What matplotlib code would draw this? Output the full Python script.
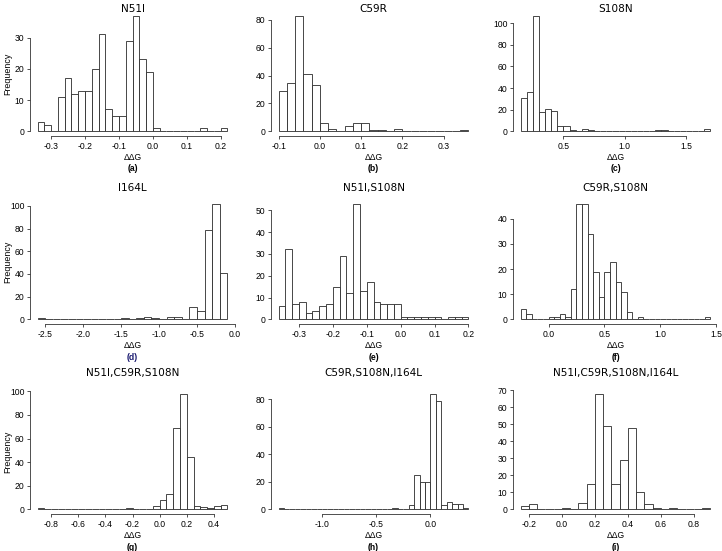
import numpy as np
import matplotlib
matplotlib.use('Agg')
import matplotlib.pyplot as plt

# titles and panel letters
titles = ['N51I', 'C59R', 'S108N',
          'I164L', 'N51I,S108N', 'C59R,S108N',
          'N51I,C59R,S108N', 'C59R,S108N,I164L', 'N51I,C59R,S108N,I164L']
letters = ['(a)', '(b)', '(c)', '(d)', '(e)', '(f)', '(g)', '(h)', '(i)']

# histogram bins: first left edge and bin width for each panel
bin_start = [-0.34, -0.10, 0.15, -2.6, -0.36, -0.25, -0.90, -1.40, -0.25]
bin_width = [0.02, 0.02, 0.05, 0.1, 0.02, 0.05, 0.05, 0.05, 0.05]

# counts
counts_a = [3, 2, 0, 11, 17, 12, 13, 13, 20, 31, 7, 5, 5, 29, 37, 23, 19, 1,
            0, 0, 0, 0, 0, 0, 1, 0, 0, 1]
counts_b = [29, 35, 83, 41, 33, 6, 2, 0, 4, 6, 6, 1, 1, 0, 2,
            0, 0, 0, 0, 0, 0, 0, 1]
counts_c = [31, 36, 107, 18, 21, 19, 5, 5, 1, 0, 2, 1,
            0, 0, 0, 0, 0, 0, 0, 0, 0, 0, 1, 1, 0, 0, 0, 0, 0, 0, 2]
counts_d = [1, 0, 0, 0, 0, 0, 0, 0, 0, 0, 0, 1, 0, 1, 2, 1, 0, 2, 2, 0,
            11, 7, 79, 102, 41]
counts_e = [6, 32, 7, 8, 3, 4, 6, 7, 15, 29, 12, 53, 13, 17, 8, 7, 7, 7,
            1, 1, 1, 1, 1, 1, 0, 1, 1, 1]
counts_f = [4, 2, 0, 0, 0, 1, 1, 2, 1, 12, 46, 46, 34, 19, 9, 19, 23, 15, 11, 3,
            0, 1, 0, 0, 0, 0, 0, 0, 0, 0, 0, 0, 0, 1]
counts_g = [1, 0, 0, 0, 0, 0, 0, 0, 0, 0, 0, 0, 0, 1, 0, 0, 0,
            3, 8, 13, 69, 98, 44, 3, 2, 1, 3, 4]
counts_h = [1] + [0] * 20 + [1, 0, 0, 3, 25, 20, 20, 84, 79, 3, 5, 4, 4, 1]
counts_i = [2, 3, 0, 0, 0, 1, 0, 4, 15, 68, 49, 15, 29, 48, 10, 3, 1, 0, 1,
            0, 0, 0, 1]
all_counts = [counts_a, counts_b, counts_c, counts_d, counts_e,
              counts_f, counts_g, counts_h, counts_i]

xticks = [[-0.3, -0.2, -0.1, 0.0, 0.1, 0.2],
          [-0.1, 0.0, 0.1, 0.2, 0.3],
          [0.5, 1.0, 1.5],
          [-2.5, -2.0, -1.5, -1.0, -0.5, 0.0],
          [-0.3, -0.2, -0.1, 0.0, 0.1, 0.2],
          [0.0, 0.5, 1.0, 1.5],
          [-0.8, -0.6, -0.4, -0.2, 0.0, 0.2, 0.4],
          [-1.0, -0.5, 0.0],
          [-0.2, 0.0, 0.2, 0.4, 0.6, 0.8]]
yticks = [[0, 10, 20, 30],
          [0, 20, 40, 60, 80],
          [0, 20, 40, 60, 80, 100],
          [0, 20, 40, 60, 80, 100],
          [0, 10, 20, 30, 40, 50],
          [0, 10, 20, 30, 40],
          [0, 20, 40, 60, 80, 100],
          [0, 20, 40, 60, 80],
          [0, 10, 20, 30, 40, 50, 60, 70]]

W, H = 722, 551
fig = plt.figure(figsize=(W / 100, H / 100), dpi=100)

col_left = [30, 271, 513]
row_top = [11, 199, 389]
aw, ah = 205, 125
sans = 'Liberation Sans'
fs = 6.2

for k in range(9):
    r, c = divmod(k, 3)
    x0, y0 = col_left[c], row_top[r]
    ax = fig.add_axes([x0 / W, 1 - (y0 + ah) / H, aw / W, ah / H])
    cnt = np.array(all_counts[k])
    edges = bin_start[k] + bin_width[k] * np.arange(len(cnt) + 1)
    ax.bar(edges[:-1], cnt, width=np.diff(edges), align='edge',
           facecolor='white', edgecolor='#2a2a2a', linewidth=0.6)

    lo, hi = edges[0], edges[-1]
    pad = 0.04 * (hi - lo)
    ax.set_xlim(lo - pad, hi + pad)
    ym = cnt.max()
    ax.set_ylim(-0.04 * ym, 1.04 * ym)

    ax.set_xticks(xticks[k])
    ax.set_xticklabels(['%.1f' % v for v in xticks[k]], fontsize=fs, family=sans)
    ax.set_yticks(yticks[k])
    ax.set_yticklabels([str(v) for v in yticks[k]], fontsize=fs, family=sans)
    ax.tick_params(length=2.5, width=0.6, pad=1.5, color='#333333')
    for s in ['top', 'right']:
        ax.spines[s].set_visible(False)
    ax.spines['left'].set_bounds(yticks[k][0], yticks[k][-1])
    ax.spines['bottom'].set_bounds(xticks[k][0], xticks[k][-1])
    for s in ['left', 'bottom']:
        ax.spines[s].set_linewidth(0.6)
        ax.spines[s].set_color('#333333')

    cx = (x0 + aw / 2) / W
    title_y = [9, 188, 373][r]
    fig.text(cx, 1 - title_y / H, titles[k], ha='center', va='center',
             fontsize=7.6, family='DejaVu Sans')
    fig.text(cx, 1 - (y0 + ah + 22) / H, 'ΔΔG', ha='center', va='center',
             fontsize=fs, family=sans)
    fig.text(cx, 1 - (y0 + ah + 33) / H, letters[k], ha='center', va='center',
             fontsize=fs, family=sans, fontweight='bold',
             color='#1a1a70' if k == 3 else 'black')
    if c == 0:
        fig.text(8 / W, 1 - (y0 + ah / 2) / H, 'Frequency', rotation=90,
                 ha='center', va='center', fontsize=6.4, family=sans)

fig.savefig('out.png', dpi=100)
